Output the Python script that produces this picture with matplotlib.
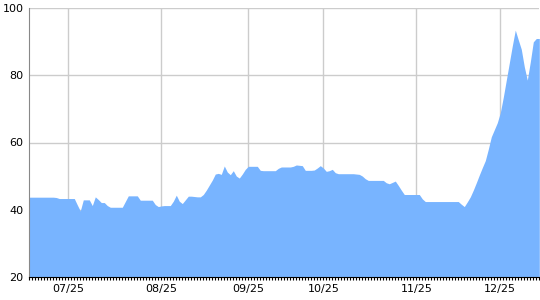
import numpy as np
import matplotlib.pyplot as plt
from matplotlib.ticker import MultipleLocator

# one value per bottom tick (index-based x axis)
values = [
    43.7, 43.7, 43.7, 43.7, 43.7, 43.7, 43.7, 43.7, 43.7, 43.6,
    43.3, 43.3, 43.3, 43.3, 43.3, 43.3, 41.4, 39.6, 42.9, 42.9,
    42.9, 41.2, 43.8, 43.0, 42.1, 42.1, 41.2, 40.7, 40.7, 40.7,
    40.7, 40.7, 42.4, 44.1, 44.1, 44.1, 44.1, 42.8, 42.8, 42.8,
    42.8, 42.8, 41.5, 40.9, 41.1, 41.2, 41.2, 41.2, 42.5, 44.3,
    42.5, 41.8, 42.9, 44.0, 44.0, 43.9, 43.8, 43.8, 44.5, 45.8,
    47.3, 48.8, 50.6, 50.8, 50.5, 53.0, 51.2, 50.4, 51.6, 50.0,
    49.4, 50.6, 52.0, 52.9, 52.9, 52.9, 52.9, 51.7, 51.6, 51.6,
    51.6, 51.6, 51.6, 52.3, 52.7, 52.7, 52.7, 52.7, 52.9, 53.3,
    53.2, 53.1, 51.7, 51.7, 51.7, 51.8, 52.4, 53.1, 52.4, 51.4,
    51.6, 52.0, 51.0, 50.7, 50.7, 50.7, 50.7, 50.7, 50.7, 50.6,
    50.5, 50.0, 49.2, 48.7, 48.7, 48.7, 48.7, 48.7, 48.7, 48.0,
    47.7, 48.1, 48.5, 47.2, 45.8, 44.5, 44.5, 44.5, 44.5, 44.5,
    44.5, 43.2, 42.4, 42.4, 42.4, 42.4, 42.4, 42.4, 42.4, 42.4,
    42.4, 42.4, 42.4, 42.4, 41.6, 40.9, 42.3, 43.8, 45.8, 48.0,
    50.3, 52.5, 54.6, 58.0, 61.7, 63.8, 65.9, 68.9, 73.5, 78.6,
    83.7, 88.8, 93.5, 90.6, 87.8, 82.6, 78.6, 84.0, 90.0, 91.0,
    91.0,
]
label_pos = [13, 44, 73, 98, 129, 157]
labels = ["07/25", "08/25", "09/25", "10/25", "11/25", "12/25"]
yticks = [20, 40, 60, 80, 100]

x = np.arange(len(values))

fig = plt.figure(figsize=(5.4, 3.0), dpi=100)
ax = fig.add_axes([29.3 / 540, 23.3 / 300, 510 / 540, 268.4 / 300])

ax.fill_between(x, 20, values, color="#78b4ff", lw=0, zorder=2)

ax.set_xlim(0, len(values) - 1)
ax.set_ylim(20, 100)
ax.set_yticks(yticks)
ax.set_xticks(label_pos)
ax.set_xticklabels(labels)
ax.xaxis.set_minor_locator(MultipleLocator(1))

ax.grid(True, color="#cccccc", lw=1, zorder=0)
ax.set_axisbelow(True)

for s in ["top", "right"]:
    ax.spines[s].set_visible(False)
ax.spines["left"].set_color("#888888")
ax.spines["bottom"].set_color("black")

ax.tick_params(axis="y", length=0, pad=4, labelsize=8)
ax.tick_params(axis="x", which="both", direction="out", length=2.5, width=0.8,
               pad=3, labelsize=8, color="black")

plt.savefig("out.png", dpi=100)
